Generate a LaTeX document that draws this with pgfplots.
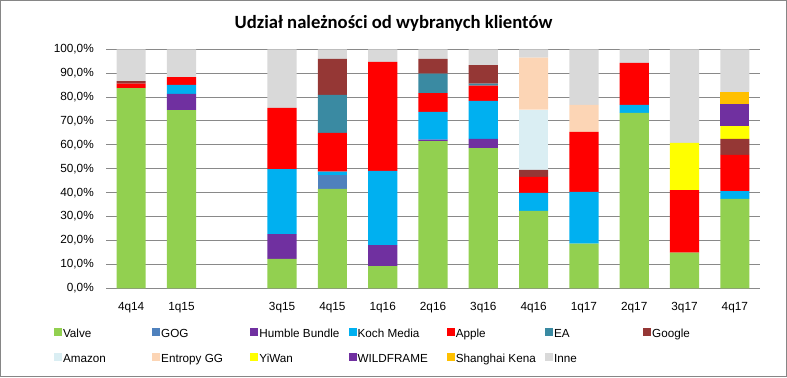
\documentclass[border=0pt]{standalone}
\usepackage{pgfplots}
\usepackage{pgfplotstable}
\pgfplotsset{compat=1.18}
\usepackage{fontspec}
\setmainfont{Liberation Sans}
\newfontfamily\titlefont{Carlito}
\definecolor{cValve}{HTML}{92D050}
\definecolor{cGOG}{HTML}{4F81BD}
\definecolor{cHumble}{HTML}{7030A0}
\definecolor{cKoch}{HTML}{00B0F0}
\definecolor{cApple}{HTML}{FF0000}
\definecolor{cEA}{HTML}{3A8AA2}
\definecolor{cGoogle}{HTML}{953735}
\definecolor{cAmazon}{HTML}{DAEEF3}
\definecolor{cEntropy}{HTML}{FCD5B5}
\definecolor{cYiWan}{HTML}{FFFF00}
\definecolor{cWild}{HTML}{7030A0}
\definecolor{cShanghai}{HTML}{FFC000}
\definecolor{cInne}{HTML}{D9D9D9}
\definecolor{gridgray}{HTML}{898989}
\definecolor{framegray}{HTML}{868686}
\pgfplotstableread{
x Valve GOG Humble Koch Apple EA Google Amazon Entropy YiWan Wild Shanghai Inne
0 83.8 0 0 0 1.8 0 1.1 0 0 0 0 0 13.3
1 74.6 0 6.7 3.8 3.3 0 0 0 0 0 0 0 11.6
3 12.3 0 10.4 27.2 25.6 0 0 0 0 0 0 0 24.5
4 41.6 5.8 0 1.4 16.2 15.9 15.1 0 0 0 0 0 4.0
5 9.3 0 8.8 31.0 45.6 0 0 0 0 0 0 0 5.3
6 61.6 0 0.6 11.6 7.9 8.1 6.2 0 0 0 0 0 4.0
7 58.7 0 3.8 15.9 6.4 0.8 7.8 0 0 0 0 0 6.6
8 32.4 0 0 7.5 6.7 0 2.9 25.3 21.7 0 0 0 3.5
9 18.7 0 0 21.6 25.1 0 0 0 11.3 0 0 0 23.3
10 73.4 0 0 3.3 17.6 0 0 0 0 0 0 0 5.7
11 14.9 0 0 0 26.2 0 0 0 0 19.7 0 0 39.2
12 37.4 0 0 3.3 15.1 0 6.7 0 0 5.4 9.4 4.8 17.9
}\data
\newcommand{\lt}[1]{\makebox[89.2bp][l]{#1}}
\begin{document}
\begin{tikzpicture}[x=1bp,y=1bp]
\useasboundingbox (0,0) rectangle (787,377);
\draw[color=framegray, line width=1bp] (0.5,0.5) rectangle (786.5,376.5);
\node[anchor=base, inner sep=0pt, font=\titlefont\bfseries\fontsize{18.67bp}{22bp}\selectfont] at (393.5,348.7) {Udział należności od wybranych klientów};
\begin{axis}[
  at={(106bp,88.7bp)}, anchor=south west,
  scale only axis, width=654bp, height=239bp,
  ybar stacked, bar width=0.58,
  xmin=-0.5, xmax=12.5, ymin=0, ymax=100,
  enlarge x limits=false, enlarge y limits=false,
  axis x line*=bottom, axis y line*=left,
  y axis line style={draw=none},
  x axis line style={draw=gridgray, line width=1bp, -},
  major tick length=0pt,
  ymajorgrids, grid style={draw=gridgray, line width=1bp},
  ytick={0,10,...,100},
  yticklabels={{0,0\%},{10,0\%},{20,0\%},{30,0\%},{40,0\%},{50,0\%},{60,0\%},{70,0\%},{80,0\%},{90,0\%},{100,0\%}},
  xtick={0,1,3,4,5,6,7,8,9,10,11,12},
  xticklabels={4q14,1q15,3q15,4q15,1q16,2q16,3q16,4q16,1q17,2q17,3q17,4q17},
  tick label style={font=\fontsize{11.8bp}{14bp}\selectfont, text=black},
  yticklabel style={inner sep=0pt, anchor=east, xshift=-12bp},
  xticklabel style={inner sep=0pt, anchor=north, yshift=-13.4bp},
  legend columns=7,
  legend style={at={(-0.0795,-0.166)}, anchor=north west, draw=none, fill=none,
    inner sep=0pt, outer sep=0pt,
    font=\fontsize{11.7bp}{14bp}\selectfont,
    nodes={inner sep=0pt, text height=9bp, text depth=3bp},
    /tikz/every odd column/.style={column sep=1bp},
    row sep=12bp},
  legend image code/.code={\fill[#1] (0bp,-1bp) rectangle (8bp,7bp);},
  every axis plot/.append style={draw=none},
]
\addplot[fill=cValve] table[x=x,y=Valve]{\data}; \addlegendentry{\lt{Valve}}
\addplot[fill=cGOG] table[x=x,y=GOG]{\data}; \addlegendentry{\lt{GOG}}
\addplot[fill=cHumble] table[x=x,y=Humble]{\data}; \addlegendentry{\lt{Humble Bundle}}
\addplot[fill=cKoch] table[x=x,y=Koch]{\data}; \addlegendentry{\lt{Koch Media}}
\addplot[fill=cApple] table[x=x,y=Apple]{\data}; \addlegendentry{\lt{Apple}}
\addplot[fill=cEA] table[x=x,y=EA]{\data}; \addlegendentry{\lt{EA}}
\addplot[fill=cGoogle] table[x=x,y=Google]{\data}; \addlegendentry{\lt{Google}}
\addplot[fill=cAmazon] table[x=x,y=Amazon]{\data}; \addlegendentry{\lt{Amazon}}
\addplot[fill=cEntropy] table[x=x,y=Entropy]{\data}; \addlegendentry{\lt{Entropy GG}}
\addplot[fill=cYiWan] table[x=x,y=YiWan]{\data}; \addlegendentry{\lt{YiWan}}
\addplot[fill=cWild] table[x=x,y=Wild]{\data}; \addlegendentry{\lt{WILDFRAME}}
\addplot[fill=cShanghai] table[x=x,y=Shanghai]{\data}; \addlegendentry{\lt{Shanghai Kena}}
\addplot[fill=cInne] table[x=x,y=Inne]{\data}; \addlegendentry{\lt{Inne}}
\end{axis}
\end{tikzpicture}
\end{document}
